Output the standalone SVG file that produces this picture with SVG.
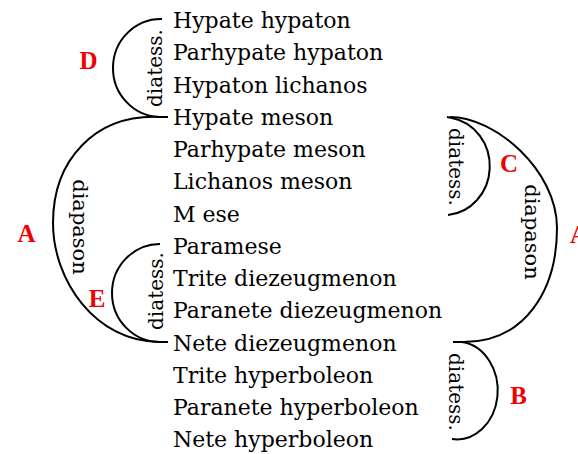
<svg xmlns="http://www.w3.org/2000/svg" width="578" height="454" viewBox="0 0 578 454">
<style>
.n{font-family:"DejaVu Serif","Liberation Serif",serif;font-size:22px;fill:#000}
.r{font-family:"DejaVu Serif","Liberation Serif",serif;font-size:20px;fill:#000}
.lab{font-family:"Liberation Serif","Times New Roman",serif;font-size:25px;font-weight:bold;fill:#f00000;text-anchor:middle}
.c{fill:none;stroke:#000;stroke-width:2}
</style>
<rect width="578" height="454" fill="#fff"/>
<g id="notes">
<g id="n0"><text class="n" x="173" y="28">Hypate hypaton</text></g>
<g id="n1"><text class="n" x="173" y="60.25">Parhypate hypaton</text></g>
<g id="n2"><text class="n" x="173" y="92.5">Hypaton lichanos</text></g>
<g id="n3"><text class="n" x="173" y="124.75">Hypate meson</text></g>
<g id="n4"><text class="n" x="173" y="157">Parhypate meson</text></g>
<g id="n5"><text class="n" x="173" y="189.25">Lichanos meson</text></g>
<g id="n6"><text class="n" x="173" y="221.5">M ese</text></g>
<g id="n7"><text class="n" x="173" y="253.75">Paramese</text></g>
<g id="n8"><text class="n" x="173" y="286">Trite diezeugmenon</text></g>
<g id="n9"><text class="n" x="173" y="318.25">Paranete diezeugmenon</text></g>
<g id="n10"><text class="n" x="173" y="350.5">Nete diezeugmenon</text></g>
<g id="n11"><text class="n" x="173" y="382.75">Trite hyperboleon</text></g>
<g id="n12"><text class="n" x="173" y="415">Paranete hyperboleon</text></g>
<g id="n13"><text class="n" x="173" y="447.25">Nete hyperboleon</text></g>
</g>
<g id="connectors">
<path id="arcD" class="c" d="M162,19 A48,49 0 0 0 160,117 L168,117"/>
<path id="arcAL" class="c" d="M160,117 C95,114 53,160 53,223 C53,280 95,342 160,342 L168,342"/>
<path id="arcE" class="c" d="M160,244 A48,49 0 0 0 160,342"/>
<path id="arcAR" class="c" d="M450,117 C495,117 557,170 557,228 C557,290 525,343 462,342"/>
<path id="arcC" class="c" d="M447,117 L452,118 A46,49 0 0 1 448,215"/>
<path id="arcB" class="c" d="M453,342 L462,342 A40,48 0 0 1 452,439"/>
</g>
<g id="arc-labels">
<text class="r" text-anchor="middle" transform="translate(162,68) rotate(-90)">diatess.</text>
<text class="r" text-anchor="middle" transform="translate(163,291) rotate(-90)">diatess.</text>
<text class="r" style="font-size:21px" text-anchor="middle" transform="translate(73,227) rotate(90)">diapason</text>
<text class="r" style="font-size:21px" text-anchor="middle" transform="translate(525,232) rotate(90)">diapason</text>
<text class="r" text-anchor="middle" transform="translate(449,167) rotate(90)">diatess.</text>
<text class="r" text-anchor="middle" transform="translate(449,392) rotate(90)">diatess.</text>
</g>
<g id="letters">
<text class="lab" x="88.5" y="69">D</text>
<text class="lab" x="26.5" y="242">A</text>
<text class="lab" x="97" y="307">E</text>
<text class="lab" x="509" y="172">C</text>
<text class="lab" x="518.5" y="404">B</text>
<text class="lab" x="570" y="243" style="text-anchor:start">A</text>
</g>
</svg>
